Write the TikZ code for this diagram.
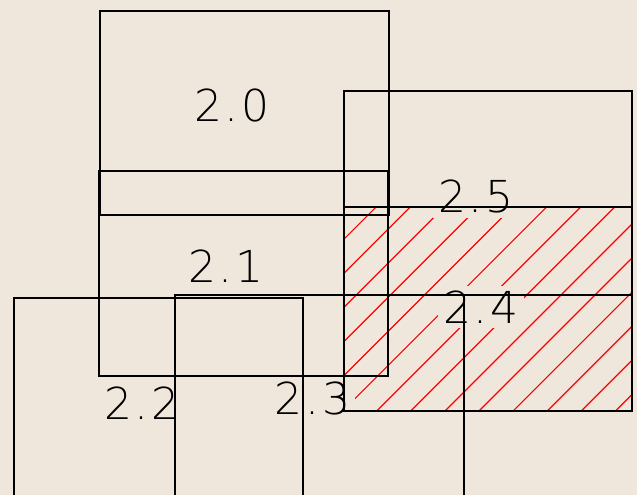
\documentclass[tikz,border=0pt]{standalone}
\usepackage{fontspec}
\setmainfont{DejaVu Sans ExtraLight}[LetterSpace=6]
\definecolor{paper}{RGB}{239,231,220}
\tikzset{
  part/.style={draw=black,line width=1.5pt},
  hatchline/.style={red,line width=1.2pt},
  tag/.style={fill=paper,inner sep=5pt,font=\fontsize{44}{50}\selectfont}
}

\begin{document}
\begin{tikzpicture}[x=1pt,y=-1pt]
  \fill[paper] (0,0) rectangle (637,495);
  \useasboundingbox (0,0) rectangle (637,495);
  % hatching of 2.4
  \begin{scope}
    \clip (344,207) rectangle (632,411);
    \foreach \k in {-7,...,8}
      \draw[hatchline] ({376.7+34.1*\k},411) -- ({580.7+34.1*\k},207);
  \end{scope}
  \node[tag] (t20) at (232,105.5) {2.0};
  \node[tag] (t21) at (226,266) {2.1};
  \node[tag] (t22) at (141.7,403) {2.2};
  \node[tag] (t23) at (312.5,398) {2.3};
  \node[tag] (t24) at (481,307) {2.4};
  \node[tag] (t25) at (476,196) {2.5};
  \draw[part] (100,11) rectangle (389,215);
  \draw[part] (99,171) rectangle (388,376);
  \draw[part] (14,298) rectangle (303,502);
  \draw[part] (175,295) rectangle (464,499);
  \draw[part] (344,207) rectangle (632,411);
  \draw[part] (344,91) rectangle (632,295);
\end{tikzpicture}
\end{document}
